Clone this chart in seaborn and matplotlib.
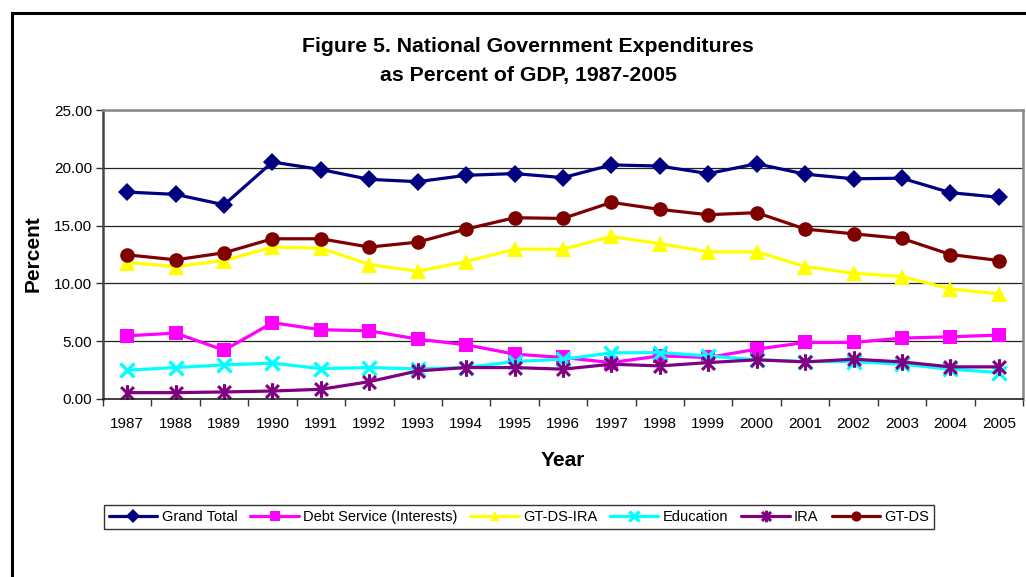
import numpy as np
import pandas as pd
import matplotlib
matplotlib.use("Agg")
import matplotlib.pyplot as plt
from matplotlib.path import Path
from matplotlib.patches import Rectangle
from matplotlib.ticker import FixedLocator, NullFormatter, FixedFormatter
import seaborn as sns

years = [1987, 1988, 1989, 1990, 1991, 1992, 1993, 1994, 1995, 1996,
         1997, 1998, 1999, 2000, 2001, 2002, 2003, 2004, 2005]
grand_total = [17.9, 17.7, 16.8, 20.5, 19.85, 19.0, 18.8, 19.35, 19.5, 19.15,
               20.25, 20.15, 19.5, 20.35, 19.45, 19.05, 19.1, 17.85, 17.45]
debt_service = [5.47, 5.7, 4.22, 6.6, 5.99, 5.9, 5.18, 4.69, 3.88, 3.59,
                3.15, 3.73, 3.59, 4.31, 4.89, 4.89, 5.27, 5.38, 5.53]
gt_ds_ira = [11.8, 11.46, 11.98, 13.14, 13.05, 11.63, 11.05, 11.89, 12.96, 12.96,
             14.06, 13.43, 12.73, 12.73, 11.46, 10.88, 10.59, 9.52, 9.09]
education = [2.49, 2.72, 2.95, 3.1, 2.63, 2.72, 2.6, 2.72, 3.24, 3.44,
             3.99, 4.02, 3.73, 3.39, 3.24, 3.24, 3.01, 2.58, 2.29]
ira = [0.55, 0.55, 0.61, 0.69, 0.84, 1.5, 2.43, 2.72, 2.72, 2.58,
       3.01, 2.86, 3.15, 3.39, 3.21, 3.44, 3.21, 2.78, 2.78]
gt_ds = [12.47, 12.04, 12.65, 13.86, 13.86, 13.14, 13.57, 14.7, 15.68, 15.62,
         17.01, 16.4, 15.94, 16.12, 14.7, 14.29, 13.89, 12.5, 11.98]

series_names = ["Grand Total", "Debt Service (Interests)", "GT-DS-IRA",
                "Education", "IRA", "GT-DS"]
series_values = [grand_total, debt_service, gt_ds_ira, education, ira, gt_ds]
y_ticks = [0, 5, 10, 15, 20, 25]

# asterisk marker (x with vertical bar)
ast = Path([(-1, -1), (1, 1), (-1, 1), (1, -1), (0, -1.3), (0, 1.3)],
           [Path.MOVETO, Path.LINETO, Path.MOVETO, Path.LINETO, Path.MOVETO, Path.LINETO])

styles = {
    "Grand Total": dict(color="#000080", marker="D", markersize=9.5, mew=0),
    "Debt Service (Interests)": dict(color="#FF00FF", marker="s", markersize=10, mew=0),
    "GT-DS-IRA": dict(color="#FFFF00", marker="^", markersize=11, mew=0),
    "Education": dict(color="#00FFFF", marker="x", markersize=10.5, mew=2.4),
    "IRA": dict(color="#800080", marker=ast, markersize=12, mew=2.2),
    "GT-DS": dict(color="#800000", marker="o", markersize=10.5, mew=0),
}

rows = []
for name, vals in zip(series_names, series_values):
    for i, (yr, v) in enumerate(zip(years, vals)):
        rows.append({"series": name, "pos": i, "year": yr, "value": v})
df = pd.DataFrame(rows)

sns.set_theme(style="white")
plt.rcParams["font.family"] = ["Liberation Sans", "DejaVu Sans"]
plt.rcParams["text.color"] = "black"
plt.rcParams["axes.labelcolor"] = "black"
plt.rcParams["xtick.color"] = "black"
plt.rcParams["ytick.color"] = "black"

fig = plt.figure(figsize=(10.26, 5.77), dpi=100)
ax = fig.add_axes([103 / 1026, 1 - 399 / 577, (1023 - 103) / 1026, (399 - 110) / 577])

for name in series_names:
    st = styles[name]
    sub = df[df["series"] == name]
    sns.lineplot(data=sub, x="pos", y="value", ax=ax, color=st["color"],
                 marker=st["marker"], markersize=st["markersize"],
                 markeredgewidth=st["mew"], markeredgecolor=st["color"],
                 markerfacecolor=st["color"], linewidth=2.3, label=name,
                 legend=False, sort=False)

ax.set_xlim(-0.5, len(years) - 0.5)
ax.set_ylim(0, 25)

# y axis
ax.set_yticks(y_ticks)
ax.set_yticklabels([f"{v:.2f}" for v in y_ticks])
ax.yaxis.grid(True, color="#222222", linewidth=0.9)
ax.set_axisbelow(True)

# x axis: ticks at boundaries, labels centered
ax.xaxis.set_major_locator(FixedLocator(np.arange(-0.5, len(years), 1.0)))
ax.xaxis.set_major_formatter(NullFormatter())
ax.xaxis.set_minor_locator(FixedLocator(np.arange(len(years))))
ax.xaxis.set_minor_formatter(FixedFormatter([str(y) for y in years]))
ax.tick_params(axis="x", which="major", direction="out", length=5, width=1, color="#333333", bottom=True)
ax.tick_params(axis="x", which="minor", length=0, pad=13, labelsize=11, labelcolor="black", bottom=True)
ax.tick_params(axis="y", which="major", direction="out", length=5, width=1, color="#333333",
               labelsize=11, labelcolor="black", pad=3, left=True)

for s in ["top", "right"]:
    ax.spines[s].set_color("#888888")
    ax.spines[s].set_linewidth(1.8)
ax.spines["left"].set_color("#444444")
ax.spines["left"].set_linewidth(1.8)
ax.spines["bottom"].set_color("#222222")
ax.spines["bottom"].set_linewidth(1.2)

ax.set_xlabel("Year", fontsize=15, fontweight="bold", labelpad=14, color="black")
ax.set_ylabel("")
fig.text(33 / 1026, 1 - 254 / 577, "Percent", rotation=90, fontsize=15, fontweight="bold",
         ha="center", va="center", color="black")

fig.text(528 / 1026, 1 - 47 / 577, "Figure 5. National Government Expenditures",
         fontsize=15.3, fontweight="bold", ha="center", va="center", color="black")
fig.text(528 / 1026, 1 - 75 / 577, "as Percent of GDP, 1987-2005",
         fontsize=15.3, fontweight="bold", ha="center", va="center", color="black")

handles, labels = ax.get_legend_handles_labels()
leg = fig.legend(handles, labels, loc="center", bbox_to_anchor=(519 / 1026, 1 - 517 / 577),
                 ncol=6, fontsize=10.5, frameon=True, fancybox=False, edgecolor="black",
                 handlelength=3.3, handletextpad=0.3, columnspacing=0.9, borderpad=0.35,
                 markerscale=0.7, borderaxespad=0)
leg.get_frame().set_linewidth(1.0)
for t in leg.get_texts():
    t.set_color("black")

# outer chart border
fig.patches.append(Rectangle((12 / 1026, -0.05), 1.2, 1 - 13 / 577 + 0.05,
                             transform=fig.transFigure, fill=False, edgecolor="black",
                             linewidth=2.2, clip_on=False))

fig.savefig("out.png", dpi=100)
